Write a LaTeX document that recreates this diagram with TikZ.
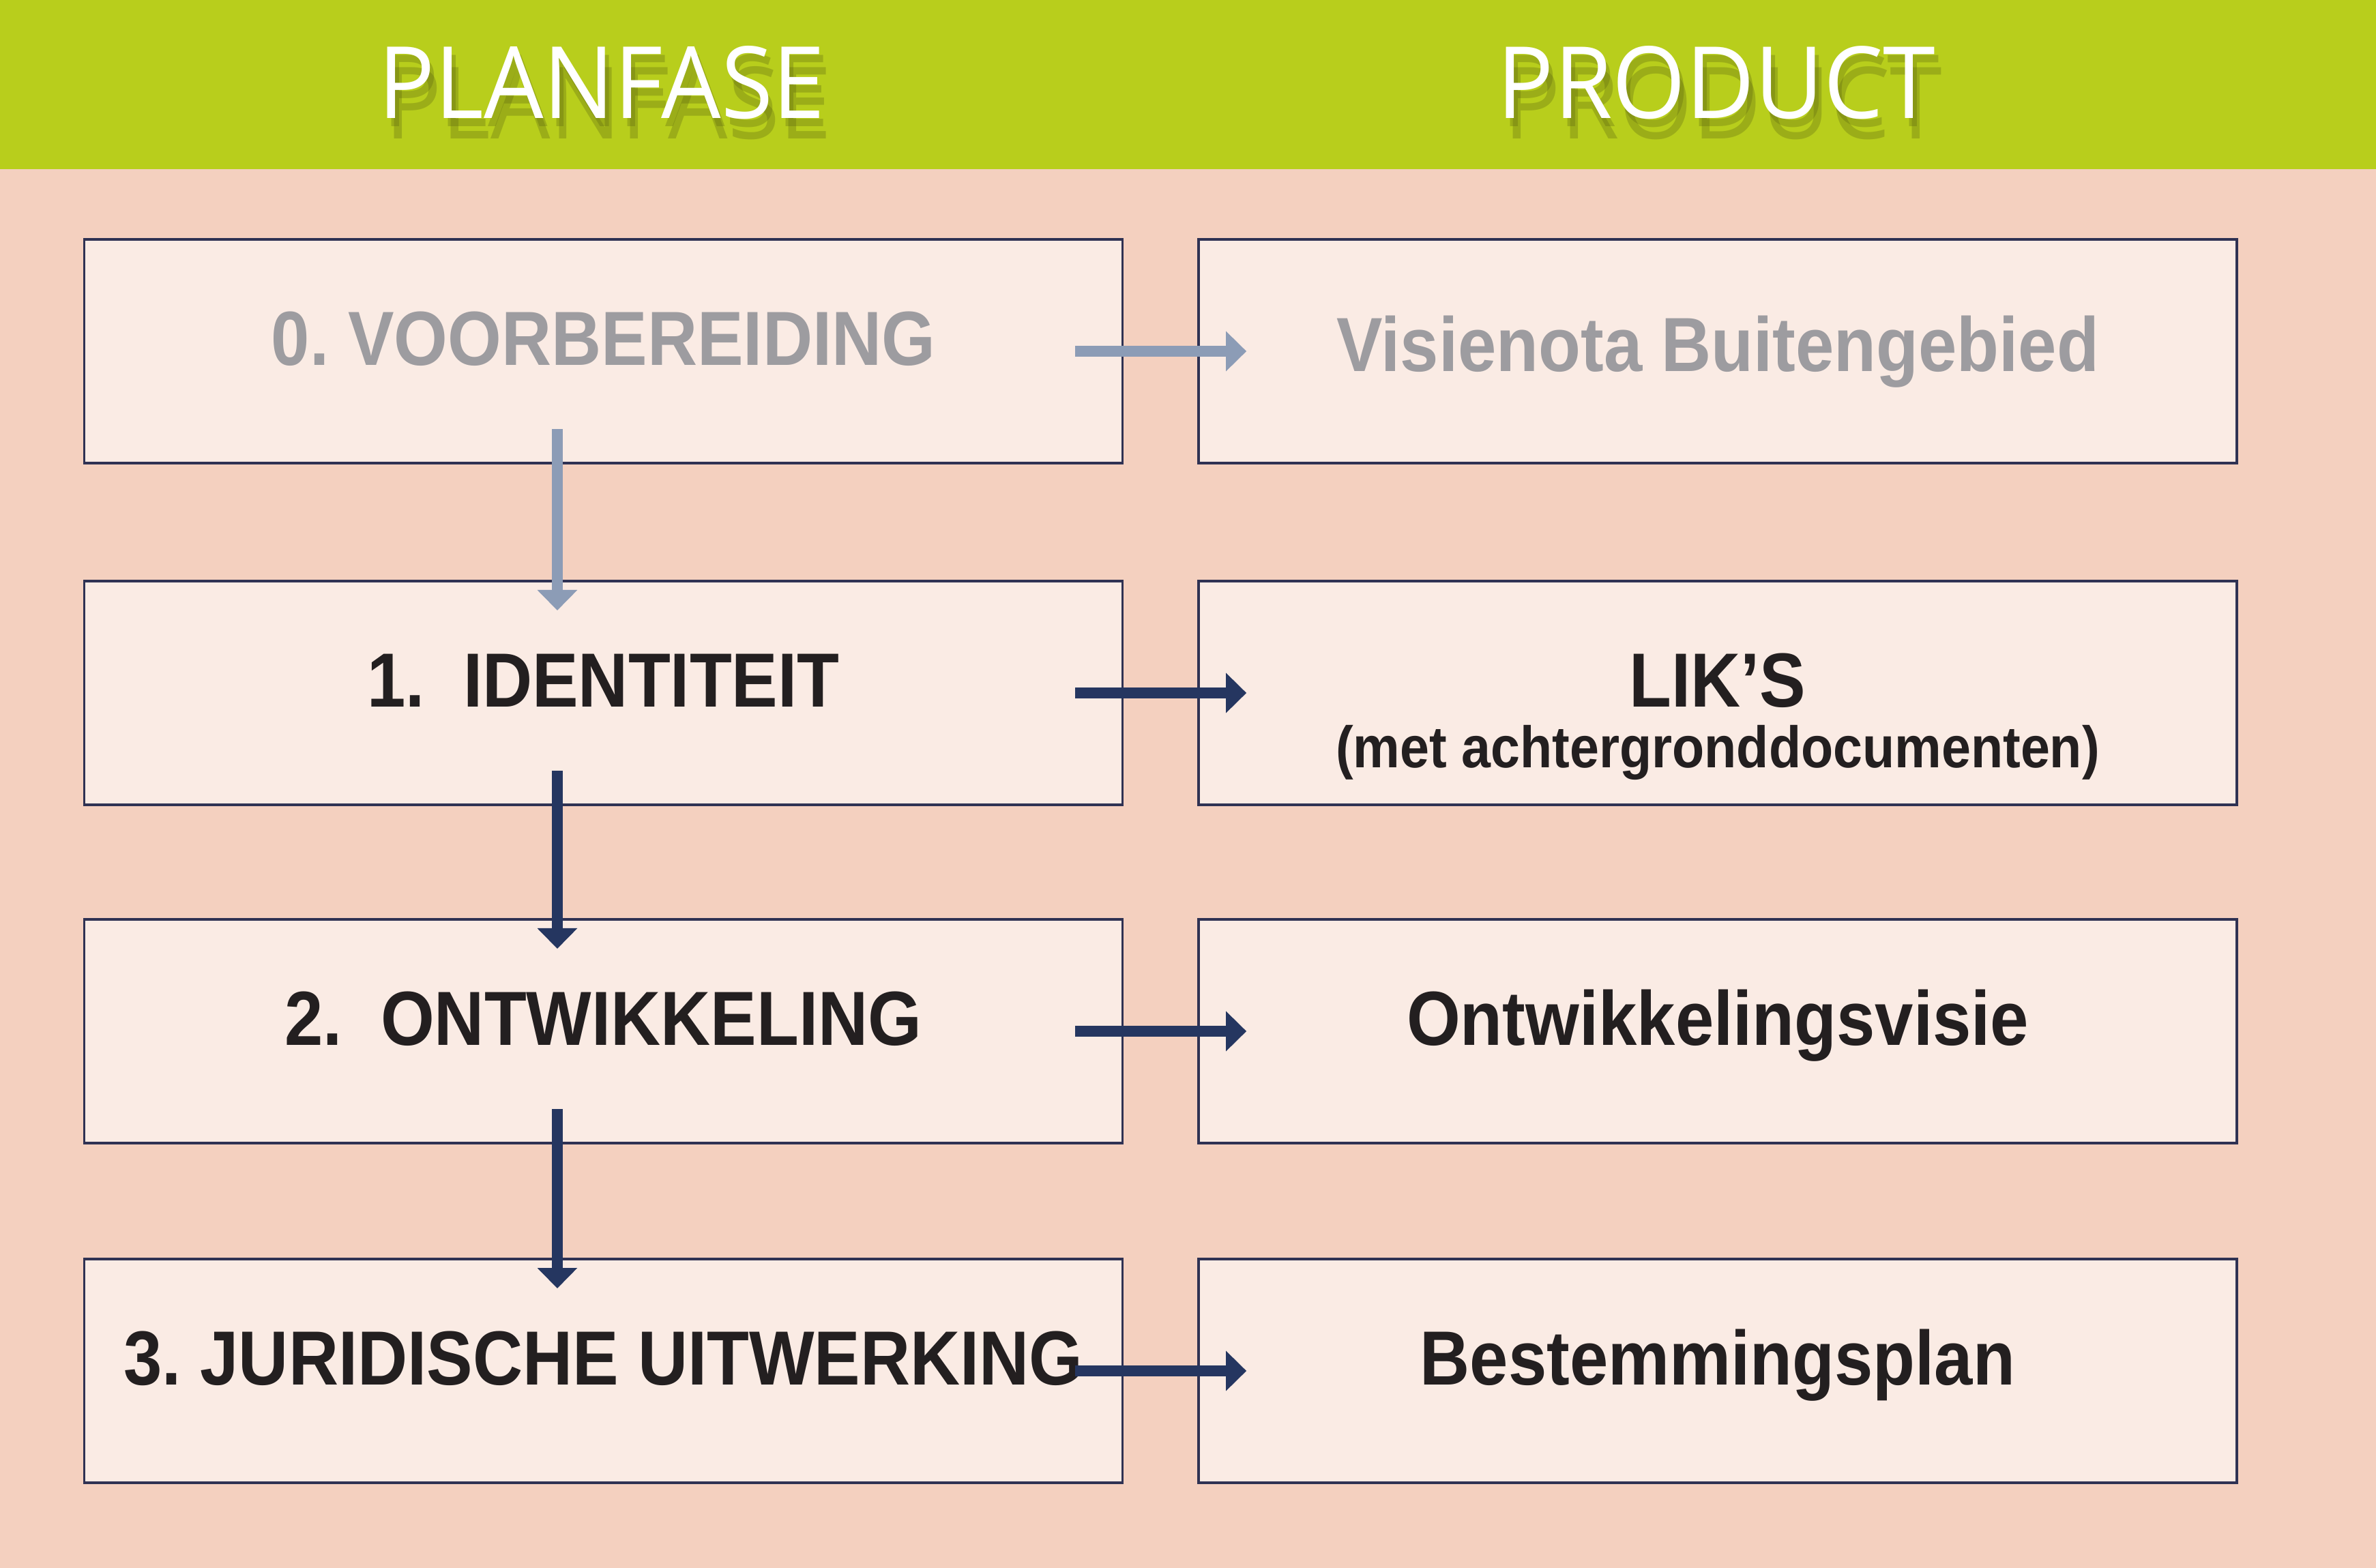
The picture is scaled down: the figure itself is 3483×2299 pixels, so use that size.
\documentclass[tikz,border=0pt]{standalone}
\usepackage{fontspec}
\setmainfont{Liberation Sans}[FakeStretch=0.9]
\newfontfamily\headfont{Open Sans}
\usepackage{xcolor}
\usetikzlibrary{arrows.meta,positioning}
\definecolor{headgreen}{HTML}{B8CE1C}
\definecolor{peach}{HTML}{F4D0BF}
\definecolor{boxfill}{HTML}{FAEBE4}
\definecolor{boxline}{HTML}{2F3253}
\definecolor{navy}{HTML}{253660}
\definecolor{fadearrow}{HTML}{8C9CB6}
\definecolor{fadetext}{HTML}{9D9CA0}
\definecolor{inktext}{HTML}{231F20}
\definecolor{shadowgreen}{HTML}{5A6410}
\frenchspacing

\begin{document}
\begin{tikzpicture}[
      x=0.01cm,y=-0.01cm,
      phasebox/.style={rectangle,draw=boxline,line width=1.1pt,fill=boxfill,
                  minimum width=15.21cm,minimum height=3.28cm,inner sep=0pt,
                  text=inktext,font=\bfseries\fontsize{32}{38}\selectfont,
                  text height=0.78cm,text depth=0.38cm},
      fadebox/.style={phasebox,text=fadetext},
      subtext/.style={inner sep=0pt,text=inktext,
                  font=\bfseries\fontsize{24.4}{29}\selectfont},
      headtext/.style={inner sep=0pt,text=white,font=\headfont},
      headshadow/.style={headtext,text=shadowgreen,opacity=0.3},
      arrow/.style={-{Triangle[length=0.3cm,width=0.57cm]},line width=4.3pt,navy},
      fadedarrow/.style={arrow,fadearrow}
    ]

    \useasboundingbox (0,0) rectangle (3483,2299);
    \fill[peach] (0,0) rectangle (3483,2299);

    % header
    \fill[headgreen] (0,0) rectangle (3483,248);
    \foreach \dx/\dy [count=\i] in {6/12,10/30}{
      \node[headshadow,anchor=base] (plansh\i) at (882+\dx,173+\dy)
            {\resizebox{6.55cm}{1.06cm}{PLANFASE}};
      \node[headshadow,anchor=base] (prodsh\i) at (2516+\dx,173+\dy)
            {\resizebox{6.42cm}{1.06cm}{PRODUCT}};
    }
    \node[headtext,anchor=base] (planfase) at (882,173)
          {\resizebox{6.55cm}{1.06cm}{PLANFASE}};
    \node[headtext,anchor=base] (product) at (2516,173)
          {\resizebox{6.42cm}{1.06cm}{PRODUCT}};

    % phases
    \node[fadebox]  (fase0) at (884.5, 515) {0. VOORBEREIDING};
    \node[phasebox] (fase1) at (884.5,1016) {1.\ \ IDENTITEIT};
    \node[phasebox] (fase2) at (884.5,1512) {2.\ \ ONTWIKKELING};
    \node[phasebox] (fase3) at (884.5,2010) {3. JURIDISCHE UITWERKING};

    % products
    \node[fadebox,text depth=0.2cm] (prod0) at (2518, 515) {Visienota Buitengebied};
    \node[phasebox] (prod1) at (2518,1016) {LIK'S};
    \node[subtext,anchor=base] (prod1sub) at ([yshift=-0.89cm]prod1.base)
          {(met achtergronddocumenten)};
    \node[phasebox] (prod2) at (2518,1512) {Ontwikkelingsvisie};
    \node[phasebox] (prod3) at (2518,2010) {Bestemmingsplan};

    % arrows
    \draw[fadedarrow] ([xshift=-0.71cm]fase0.east) -- ([xshift=0.72cm]prod0.west);
    \draw[arrow] ([xshift=-0.71cm]fase1.east) -- ([xshift=0.72cm]prod1.west);
    \draw[arrow] ([xshift=-0.71cm]fase2.east) -- ([xshift=0.72cm]prod2.west);
    \draw[arrow] ([xshift=-0.71cm]fase3.east) -- ([xshift=0.72cm]prod3.west);
    \draw[fadedarrow] ([xshift=-0.675cm,yshift=0.52cm]fase0.south)
          -- ([xshift=-0.675cm,yshift=-0.45cm]fase1.north);
    \draw[arrow] ([xshift=-0.675cm,yshift=0.52cm]fase1.south)
          -- ([xshift=-0.675cm,yshift=-0.45cm]fase2.north);
    \draw[arrow] ([xshift=-0.675cm,yshift=0.52cm]fase2.south)
          -- ([xshift=-0.675cm,yshift=-0.45cm]fase3.north);

  \end{tikzpicture}
\end{document}
